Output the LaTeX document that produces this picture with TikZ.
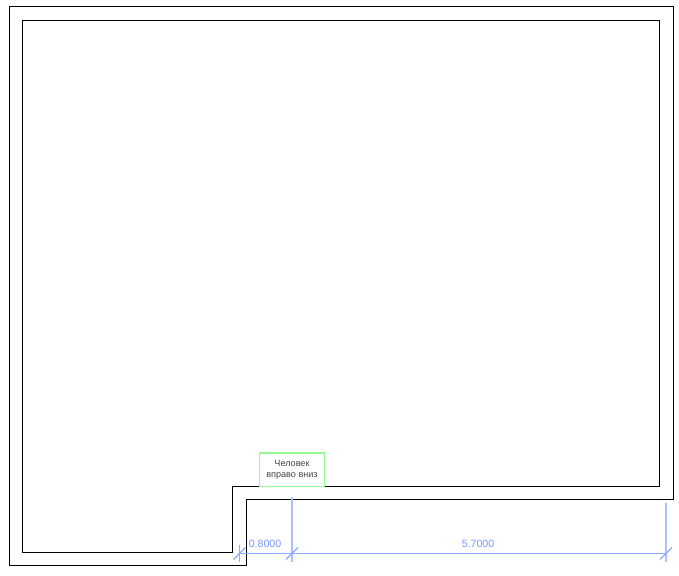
\documentclass[tikz,border=0pt]{standalone}
\usepackage{fontspec}
\setmainfont{Liberation Sans}
\usetikzlibrary{positioning}
\definecolor{dimblue}{RGB}{140,170,255}
\definecolor{dimsoft}{RGB}{172,194,255}
\definecolor{dimtext}{RGB}{120,150,255}
\definecolor{tagGreen}{RGB}{145,250,145}
\definecolor{tagText}{RGB}{70,70,70}
\tikzset{
  wall/.style={draw=black, line width=1pt},
  dimline/.style={draw=dimblue, line width=1.1pt},
  dimlabel/.style={text=dimtext, font=\fontsize{10.6}{12}\selectfont, inner sep=0pt},
  tagbox/.style={draw=tagGreen, fill=white, line width=1.1pt, minimum width=65pt, minimum height=33.5pt,
    inner sep=0pt, align=center, text=tagText, font=\fontsize{9.1}{10.5}\selectfont},
}
\begin{document}
\begin{tikzpicture}[x=1pt, y=-1pt, >=latex]
  \useasboundingbox (0,0) rectangle (679,575);
  \draw [wall] (9.5,6.5) -- (673.5,6.5) -- (673.5,499.5) -- (246.5,499.5) -- (246.5,565.5) -- (9.5,565.5) -- cycle;
  \draw [wall] (22.5,20.5) -- (659.5,20.5) -- (659.5,486.5) -- (232.5,486.5) -- (232.5,552.5) -- (22.5,552.5) -- cycle;
  \node [tagbox] (tag) at (292,469.75) {Человек\\вправо вниз};
  \coordinate (dimA) at (239.5,553.5);
  \coordinate (dimB) at (292,553.5);
  \coordinate (dimC) at (666,553.5);
  \draw [dimline] (dimA) -- (dimB) -- (dimC);
  \draw [dimline] (239.5,545) -- (239.5,562);
  \draw [dimline, draw=dimsoft] (292,497) -- (292,562);
  \draw [dimline, draw=dimsoft] (666,503) -- (666,562);
  \draw [dimline] (233.5,559.5) -- (245.5,547.5);
  \draw [dimline] (286,559.5) -- (298,547.5);
  \draw [dimline] (660,559.5) -- (672,547.5);
  \node [dimlabel] (gap) at (265,543.5) {0.8000};
  \node [dimlabel] (run) at (478,543.5) {5.7000};
\end{tikzpicture}
\end{document}
